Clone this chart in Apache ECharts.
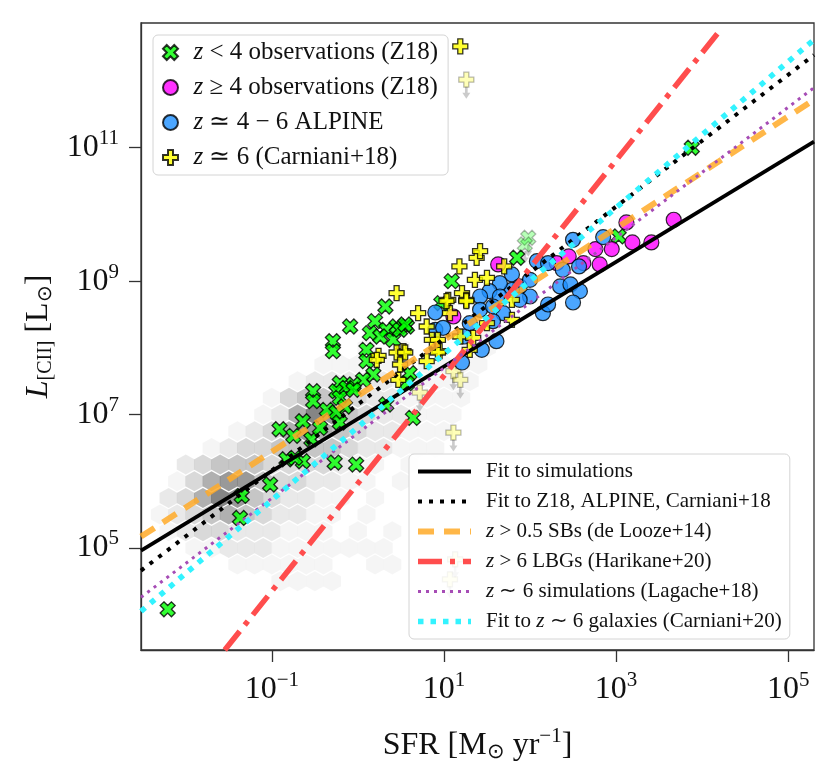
<!DOCTYPE html>
<html><head><meta charset="utf-8">
<script src="https://cdn.jsdelivr.net/npm/echarts@6/dist/echarts.min.js"></script>
<style>html,body{margin:0;padding:0;background:#fff}#c{width:830px;height:782px}</style>
</head><body><div id="c"></div>
<script>
const FONT = 'Liberation Serif';
// all values are [log10 SFR, log10 L_CII]
const xTicks = [-1, 1, 3, 5];
const yTicks = [5, 7, 9, 11];

const z18Low = [
 [3.88,11.0],[3.03,9.67],[1.85,9.35],[1.09,9.0],[0.97,8.67],[0.32,8.62],[-0.09,8.32],[0.20,8.40],
 [0.14,8.22],[0.33,8.27],[0.45,8.32],[0.57,8.32],[0.41,8.12],[0.26,8.17],[-0.29,8.10],[-0.29,7.95],
 [0.10,7.97],[0.10,7.80],[0.18,7.60],[0.06,7.52],[-0.05,7.45],[0.60,7.62],[0.57,7.47],[-0.21,7.47],
 [-0.25,7.35],[-0.13,7.40],[-0.21,7.25],[-0.05,7.37],[-0.15,7.12],[-0.36,7.07],[-0.25,7.03],[-0.21,6.88],
 [-0.52,7.35],[-0.52,7.20],[-0.64,6.90],[-0.75,6.68],[-0.91,6.78],[-0.54,6.63],[-0.44,6.80],[-0.83,6.33],
 [-0.64,6.30],[-0.73,6.35],[-0.27,6.28],[-0.02,6.25],[-1.02,5.95],[-1.35,5.78],[-1.37,5.45],[-2.21,4.08],
 [0.33,7.15],[0.64,6.95],[0.49,8.27],[0.55,8.35]
];
const z18High = [
 [1.63,9.25],[1.11,8.47],[2.31,9.27],[2.45,9.37],[2.62,9.27],[2.76,9.48],[2.95,9.48],[3.12,9.88],
 [3.19,9.58],[3.41,9.58],[3.67,9.92],[2.81,9.25]
];
const alpine = [
 [0.90,8.53],[0.90,8.27],[0.99,8.30],[1.79,9.10],[2.08,9.30],[2.21,9.27],[2.38,9.17],[2.50,9.62],
 [2.57,9.22],[2.85,9.66],[2.35,8.92],[2.47,8.95],[2.58,8.85],[2.50,8.68],[2.15,8.52],[2.21,8.65],
 [2.00,8.77],[1.88,8.92],[1.79,8.87],[1.65,8.97],[1.53,8.85],[1.69,8.52],[1.57,8.40],[1.42,8.77],
 [1.42,8.57],[1.44,7.97],[1.61,8.10],[1.21,7.78],[1.24,8.17],[1.65,8.77],[1.88,8.72],[2.00,9.02],
 [1.57,8.62],[1.30,8.37]
];
const carniani = [
 [1.19,12.52],[1.18,9.22],[1.38,9.35],[1.36,9.02],[0.45,8.82],[1.05,8.72],[1.21,8.82],[0.70,8.52],
 [1.07,8.52],[1.26,8.72],[0.80,8.32],[0.86,8.12],[0.53,7.95],[0.24,7.88],[0.95,7.95],[0.22,7.82],
 [0.45,7.93],[0.55,7.93],[0.49,7.75],[0.47,7.52],[0.80,7.80],[0.93,7.93],[1.42,9.45],[1.70,9.22],
 [1.50,9.05],[1.79,8.72],[1.79,8.42],[1.26,8.70],[1.03,8.70],[0.93,8.12],[1.19,8.17],[1.34,8.15],
 [1.30,7.97],[1.50,8.37]
];
const carnianiLimits = [[1.26,12.02],[1.11,6.73],[1.13,4.83],[1.07,4.53],[0.72,7.33],[1.11,7.65],[1.19,7.52]];
const z18LowLimits = [[1.98,9.65],[1.94,9.55]];

// straight relations: two points each
const fitSim = [[-2.52,4.96],[5.30,11.09]];
const fitObs = [[-2.52,4.66],[5.30,12.39]];
const deLooze = [[-2.52,5.17],[5.30,11.72]];
const harikane = [[-1.547,3.47],[4.22,12.78]];
const lagache = [[-2.52,4.26],[5.30,11.90]];
const carniani20 = [[-2.52,4.05],[5.30,12.62]];

// simulation hexbin density: [logL row, first logSFR, levels every 0.2 dex]
const hexRows = [
 [4.50,-0.9,[1,1,1,1]],
 [4.75,-1.4,[1,1,1,1,1,1,0,0,1,1]],
 [5.00,-1.9,[1,1,2,2,2,1,1,1,1,1,1,1]],
 [5.25,-2.2,[1,2,3,3,2,2,2,1,1,1,0,1,0,1]],
 [5.50,-2.3,[1,2,3,4,5,4,3,2,2,1,1,0,1]],
 [5.75,-2.2,[2,3,5,7,6,4,3,2,2,1,1,0,1]],
 [6.00,-2.1,[1,3,5,6,6,4,3,3,2,2,1,1,0,1]],
 [6.25,-2.0,[2,3,4,4,4,3,3,3,3,2,1,1,0,1]],
 [6.50,-1.7,[1,2,3,3,4,4,4,4,3,2,2,1,1,1]],
 [6.75,-1.4,[1,2,3,5,6,5,4,3,2,2,1,1,1]],
 [7.00,-1.1,[1,2,5,7,6,4,3,2,2,1,1,1]],
 [7.25,-1.0,[1,3,4,4,3,3,2,2,1,1,1,1]],
 [7.50,-0.7,[1,2,2,2,2,2,1,1,1,1,1]],
 [7.75,-0.4,[1,1,1,1,1,0,1,1,1,1]],
 [8.00,0.1,[1,0,1,0,0,0,1,1]],
 [8.25,1.4,[1,1]]
];
const hexColors = ['#ffffff','#f3f3f3','#e4e4e4','#d0d0d0','#b8b8b8','#9c9c9c','#808080','#666666','#505050'];

const hexCells = [];
hexRows.forEach(r => r[2].forEach((lv, k) => { if (lv > 0) hexCells.push([r[1] + 0.2 * k, r[0], lv]); }));

const PLUS = 'path://M-1,-3L1,-3L1,-1L3,-1L3,1L1,1L1,3L-1,3L-1,1L-3,1L-3,-1L-1,-1Z';
const XMARK = 'path://M-1.5,-3L0,-1.5L1.5,-3L3,-1.5L1.5,0L3,1.5L1.5,3L0,1.5L-1.5,3L-3,1.5L-1.5,0L-3,-1.5Z';
const HEX = 'path://M0,-1L0.866,-0.5L0.866,0.5L0,1L-0.866,0.5L-0.866,-0.5Z';
const ARROW = 'path://M-1,0L1,0L1,4L3,4L0,8L-3,4L-1,4Z';

const N1 = 'z < 4 observations (Z18)';
const N2 = 'z ≥ 4 observations (Z18)';
const N3 = 'z ≃ 4 − 6 ALPINE';
const N4 = 'z ≃ 6 (Carniani+18)';
const L1 = 'Fit to simulations';
const L2 = 'Fit to Z18, ALPINE, Carniani+18';
const L3 = 'z > 0.5 SBs (de Looze+14)';
const L4 = 'z > 6 LBGs (Harikane+20)';
const L5 = 'z ∼ 6 simulations (Lagache+18)';
const L6 = 'Fit to z ∼ 6 galaxies (Carniani+20)';

const lineStyles = {
  [L1]: { color: '#000', width: 3.8, type: 'solid' },
  [L2]: { color: '#000', width: 4, type: [4, 7] },
  [L3]: { color: 'rgba(255,170,40,0.85)', width: 6, type: [16, 10] },
  [L4]: { color: '#ff4d4d', width: 5.5, type: [24, 8, 5, 8] },
  [L5]: { color: '#a64cb5', width: 3, type: [3, 5] },
  [L6]: { color: '#33f3ff', width: 5.5, type: [5.5, 7] }
};

const fmtName = n => n.replace(/(^|\s)z(\s)/, '$1{i|z}$2');
const expLabel = v => '{b|10}{s|' + (v < 0 ? '−' + (-v) : v) + '}';
const TXT = '#111';

function lineSeries(name, data) {
  const st = lineStyles[name];
  return { name, type: 'line', data, symbol: 'none', showSymbol: false, z: 4, silent: true, animation: false,
    itemStyle: { color: st.color }, lineStyle: st };
}

const chart = echarts.init(document.getElementById('c'), null, {renderer: 'canvas'});
chart.setOption({
  animation: false,
  backgroundColor: '#fff',
  grid: { left: 141, right: 16, top: 23, bottom: 132, show: true, borderColor: '#333', borderWidth: 1.3 },
  xAxis: {
    type: 'value', min: -2.52, max: 5.30,
    axisLine: { show: true, onZero: false, lineStyle: { color: '#333', width: 1.3 } },
    axisTick: { show: true, customValues: xTicks, length: 12, lineStyle: { color: '#333', width: 1.3 } },
    axisLabel: { customValues: xTicks, formatter: expLabel, margin: 20, color: TXT,
      rich: { b: { fontFamily: FONT, fontSize: 32, color: TXT }, s: { fontFamily: FONT, fontSize: 21, color: TXT, padding: [0,0,18,0] } } },
    splitLine: { show: false },
    name: 'SFR [M{sub|⊙} yr{sup|−1}]', nameLocation: 'middle', nameGap: 76,
    nameTextStyle: { fontFamily: FONT, fontSize: 32, color: TXT,
      rich: { sub: { fontFamily: FONT, fontSize: 21, color: TXT, padding: [14,0,0,0] }, sup: { fontFamily: FONT, fontSize: 21, color: TXT, padding: [0,0,18,0] } } }
  },
  yAxis: {
    type: 'value', min: 3.47, max: 12.87,
    axisLine: { show: true, onZero: false, lineStyle: { color: '#333', width: 1.3 } },
    axisTick: { show: true, customValues: yTicks, length: 12, lineStyle: { color: '#333', width: 1.3 } },
    axisLabel: { customValues: yTicks, formatter: expLabel, margin: 22, color: TXT,
      rich: { b: { fontFamily: FONT, fontSize: 32, color: TXT }, s: { fontFamily: FONT, fontSize: 21, color: TXT, padding: [0,0,18,0] } } },
    splitLine: { show: false },
    name: '{it|L}{sub|[CII]} [L{sub|⊙}]', nameLocation: 'middle', nameGap: 80,
    nameTextStyle: { fontFamily: FONT, fontSize: 32, color: TXT,
      rich: { it: { fontFamily: FONT, fontSize: 32, fontStyle: 'italic', color: TXT }, sub: { fontFamily: FONT, fontSize: 20, color: TXT, padding: [14,0,0,0] } } }
  },
  legend: [
    { data: [N1, N2, N3, N4], orient: 'vertical', left: 153, top: 35, z: 10,
      padding: [5, 10, 5, 9], itemGap: 10, itemWidth: 36, itemHeight: 15,
      backgroundColor: 'rgba(255,255,255,0.85)', borderColor: '#d4d4d4', borderWidth: 1, borderRadius: 5,
      formatter: fmtName, selectedMode: false,
      textStyle: { fontFamily: FONT, fontSize: 25, color: TXT, width: 254,
        rich: { i: { fontFamily: FONT, fontSize: 25, fontStyle: 'italic', color: TXT } } } },
    { data: [L1, L2, L3, L4, L5, L6].map(n => ({ name: n, lineStyle: lineStyles[n], itemStyle: { opacity: 0 } })),
      orient: 'vertical', left: 409, top: 454, z: 10,
      padding: [7, 8, 7, 6], itemGap: 9, itemWidth: 53, itemHeight: 14,
      backgroundColor: 'rgba(255,255,255,0.85)', borderColor: '#d4d4d4', borderWidth: 1, borderRadius: 5,
      formatter: fmtName, selectedMode: false,
      textStyle: { fontFamily: FONT, fontSize: 21, color: TXT, width: 330, padding: [0,0,0,10],
        rich: { i: { fontFamily: FONT, fontSize: 21, fontStyle: 'italic', color: TXT } } } }
  ],
  series: [
    { name: 'hex', type: 'scatter', data: hexCells, symbol: HEX, symbolSize: [18, 20], z: 1, silent: true,
      itemStyle: { color: p => hexColors[p.data[2]] } },
    { name: 'lim1', type: 'scatter', data: carnianiLimits, symbol: ARROW, symbolSize: [8, 12], symbolOffset: [0, 13], z: 2, silent: true,
      itemStyle: { color: '#8c8c8c', opacity: 0.45 } },
    { name: 'lim2', type: 'scatter', data: carnianiLimits, symbol: PLUS, symbolSize: 15, z: 2, silent: true,
      itemStyle: { color: '#ffff00', borderColor: '#000', borderWidth: 1.3, opacity: 0.28 } },
    { name: 'lim3', type: 'scatter', data: z18LowLimits, symbol: ARROW, symbolSize: [8, 12], symbolOffset: [0, 13], z: 2, silent: true,
      itemStyle: { color: '#8c8c8c', opacity: 0.45 } },
    { name: 'lim4', type: 'scatter', data: z18LowLimits, symbol: XMARK, symbolSize: 15, z: 2, silent: true,
      itemStyle: { color: '#00ff00', borderColor: '#000', borderWidth: 1.3, opacity: 0.28 } },
    { name: N1, type: 'scatter', data: z18Low, symbol: XMARK, symbolSize: 15, z: 3,
      itemStyle: { color: '#00ff00', borderColor: '#000', borderWidth: 1.3 } },
    { name: N2, type: 'scatter', data: z18High, symbol: 'circle', symbolSize: 15, z: 3,
      itemStyle: { color: '#ff00ff', borderColor: '#000', borderWidth: 1.2 } },
    { name: N3, type: 'scatter', data: alpine, symbol: 'circle', symbolSize: 15, z: 3,
      itemStyle: { color: '#1e90ff', borderColor: '#000', borderWidth: 1.2 } },
    { name: N4, type: 'scatter', data: carniani, symbol: PLUS, symbolSize: 15, z: 3,
      itemStyle: { color: '#ffff00', borderColor: '#000', borderWidth: 1.3 } },
    lineSeries(L1, fitSim),
    lineSeries(L2, fitObs),
    lineSeries(L3, deLooze),
    lineSeries(L4, harikane),
    lineSeries(L5, lagache),
    lineSeries(L6, carniani20)
  ]
});
</script>
</body></html>
